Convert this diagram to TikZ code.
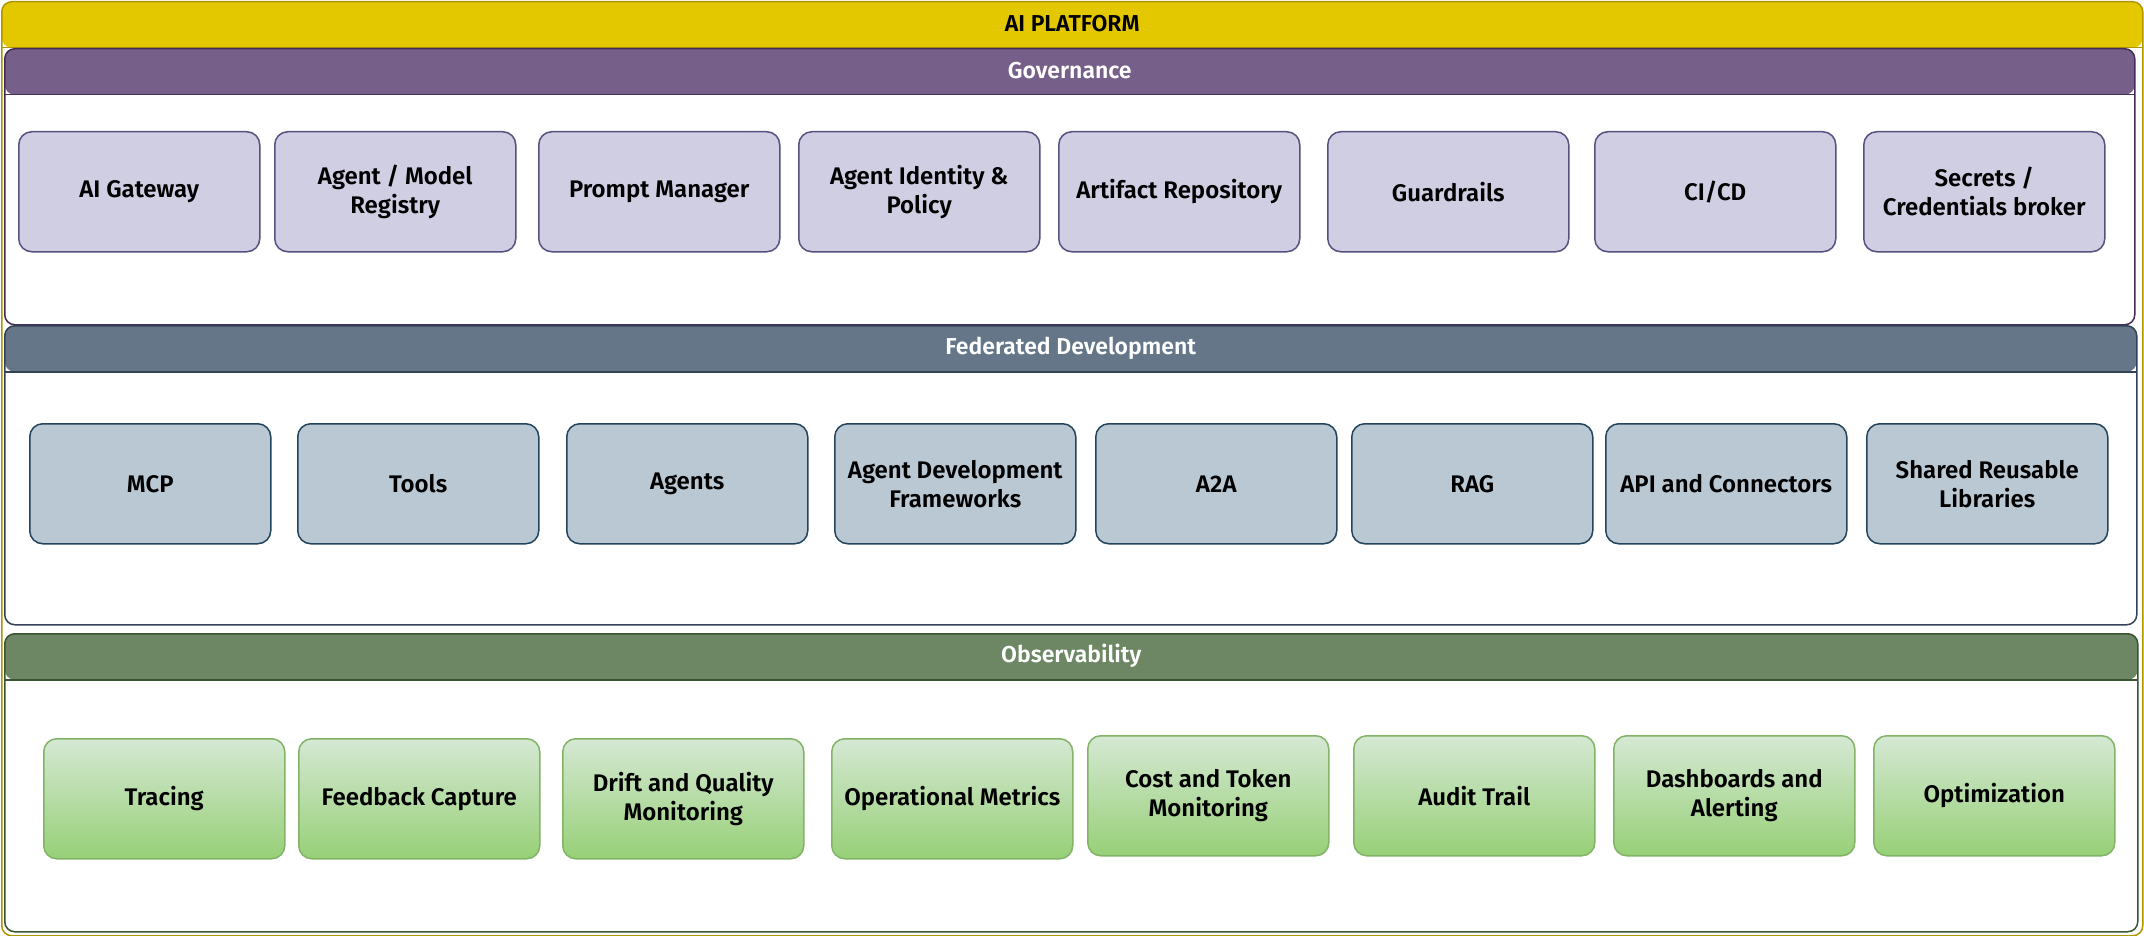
\documentclass[tikz,border=0pt]{standalone}
\usepackage{fontspec}
\setmainfont{Fira Sans}[BoldFont={Fira Sans SemiBold}]
\definecolor{platfill}{HTML}{E3C800}
\definecolor{platline}{HTML}{B09500}
\definecolor{govhead}{HTML}{76608A}
\definecolor{govline}{HTML}{432D57}
\definecolor{govbox}{HTML}{D0CEE2}
\definecolor{govboxline}{HTML}{56517E}
\definecolor{fedhead}{HTML}{647687}
\definecolor{fedline}{HTML}{314354}
\definecolor{fedbox}{HTML}{BAC8D3}
\definecolor{fedboxline}{HTML}{23445D}
\definecolor{obshead}{HTML}{6D8764}
\definecolor{obsline}{HTML}{3A5431}
\definecolor{obstop}{HTML}{D5E8D4}
\definecolor{obsbot}{HTML}{97D077}
\definecolor{obsboxline}{HTML}{82B366}
\begin{document}
\begin{tikzpicture}[x=1pt,y=-1pt,
  lane/.style n args={3}{draw=#2, fill=white, line width=1.5pt, rounded corners=10pt,
    inner sep=0pt, anchor=north west,
    path picture={
      \fill[#1] (path picture bounding box.north west) rectangle
        ([yshift=-#3]path picture bounding box.north east);
      \draw[#2, line width=1.5pt] ([yshift=-#3]path picture bounding box.north west) --
        ([yshift=-#3]path picture bounding box.north east);}},
  lanetitle/.style={font=\fontsize{23}{27}\selectfont\bfseries, text=white, inner sep=0pt},
  box/.style={rounded corners=13pt, line width=1.5pt, minimum width=241pt,
    minimum height=120pt, anchor=north west, align=center, inner sep=0pt,
    font=\fontsize{24}{29}\selectfont\bfseries},
  govitem/.style={box, draw=govboxline, fill=govbox},
  feditem/.style={box, draw=fedboxline, fill=fedbox},
  obsitem/.style={box, draw=obsboxline, top color=obstop, bottom color=obsbot}]
\useasboundingbox (0,0) rectangle (2144,936);

% outer platform container
\node[lane={platfill}{platline}{46pt}, minimum width=2141pt, minimum height=934pt] (platform) at (1,1) {};
\node[lanetitle, text=black] (platlbl) at ([yshift=-23pt]platform.north) {AI PLATFORM};

% three lanes
\node[lane={govhead}{govline}{46pt}, minimum width=2130pt, minimum height=276pt] (gov) at (4,48) {};
\node[lanetitle] (govlbl) at ([yshift=-23pt]gov.north) {Governance};

\node[lane={fedhead}{fedline}{46pt}, minimum width=2132pt, minimum height=299pt] (fed) at (4,325) {};
\node[lanetitle] (fedlbl) at ([yshift=-23pt]fed.north) {Federated Development};

\node[lane={obshead}{obsline}{46pt}, minimum width=2133pt, minimum height=298pt] (obs) at (4,633) {};
\node[lanetitle] (obslbl) at ([yshift=-23pt]obs.north) {Observability};

% governance components
\node[govitem] (g1) at (18,131)   {AI Gateway};
\node[govitem] (g2) at (274,131)  {Agent / Model\\Registry};
\node[govitem] (g3) at (538,131)  {Prompt Manager};
\node[govitem] (g4) at (798,131)  {Agent Identity \&\\Policy};
\node[govitem] (g5) at (1058,131) {Artifact Repository};
\node[govitem] (g6) at (1327,131) {Guardrails};
\node[govitem] (g7) at (1594,131) {CI/CD};
\node[govitem] (g8) at (1863,131) {Secrets /\\Credentials broker};

% federated development components
\node[feditem] (f1) at (29,423)   {MCP};
\node[feditem] (f2) at (297,423)  {Tools};
\node[feditem] (f3) at (566,423)  {Agents};
\node[feditem] (f4) at (834,423)  {Agent Development\\Frameworks};
\node[feditem] (f5) at (1095,423) {A2A};
\node[feditem] (f6) at (1351,423) {RAG};
\node[feditem] (f7) at (1605,423) {API and Connectors};
\node[feditem] (f8) at (1866,423) {Shared Reusable\\Libraries};

% observability components
\node[obsitem] (o1) at (43,738)   {Tracing};
\node[obsitem] (o2) at (298,738)  {Feedback Capture};
\node[obsitem] (o3) at (562,738)  {Drift and Quality\\Monitoring};
\node[obsitem] (o4) at (831,738)  {Operational Metrics};
\node[obsitem] (o5) at (1087,735) {Cost and Token\\Monitoring};
\node[obsitem] (o6) at (1353,735) {Audit Trail};
\node[obsitem] (o7) at (1613,735) {Dashboards and\\Alerting};
\node[obsitem] (o8) at (1873,735) {Optimization};
\end{tikzpicture}
\end{document}
